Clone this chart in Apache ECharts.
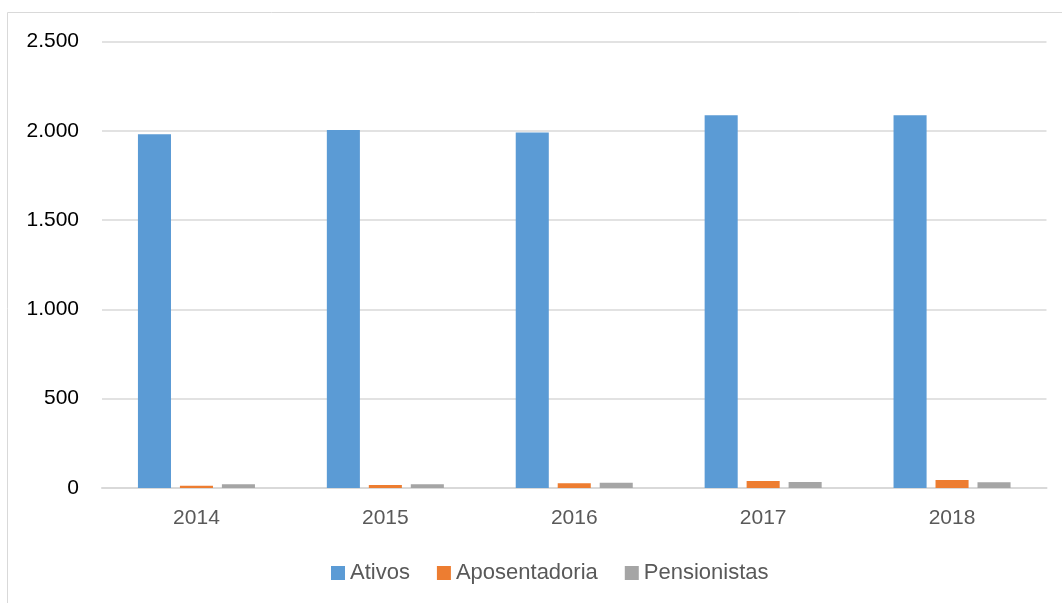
<!DOCTYPE html>
<html>
<head>
<meta charset="utf-8">
<script src="https://cdn.jsdelivr.net/npm/echarts@6/dist/echarts.min.js"></script>
<style>
  html, body { margin: 0; padding: 0; background: #fff; }
  #chart { width: 1062px; height: 603px; }
</style>
</head>
<body>
<div id="chart"></div>
<script>
const years = ['2014', '2015', '2016', '2017', '2018'];
const ativos = [1980, 2005, 1990, 2087, 2087];
const aposentadoria = [13, 17, 26, 39, 45];
const pensionistas = [21, 21, 30, 34, 32];
const yTicks = { min: 0, max: 2500, interval: 500 };

const labelColor = '#595959';
const gridLineColor = '#D9D9D9';
const font = 'Liberation Sans';

const chart = echarts.init(document.getElementById('chart'));

const barSeries = (name, data, color) => ({
  name,
  type: 'bar',
  data,
  barWidth: '17.5%',
  barGap: '27%',
  itemStyle: { color },
  emphasis: { disabled: true }
});

chart.setOption({
  animation: false,
  textStyle: { fontFamily: font },
  graphic: [{
    type: 'rect',
    shape: { x: 7.5, y: 12.5, width: 1070, height: 600 },
    style: { fill: 'none', stroke: gridLineColor, lineWidth: 1 },
    silent: true
  }],
  grid: { left: 102, right: 15.5, top: 41.5, bottom: 115 },
  legend: {
    bottom: 14,
    left: 326,
    itemWidth: 14,
    itemHeight: 14,
    itemGap: 27,
    icon: 'rect',
    textStyle: { color: labelColor, fontSize: 22, fontFamily: font },
    data: ['Ativos', 'Aposentadoria', 'Pensionistas']
  },
  xAxis: {
    type: 'category',
    data: years,
    axisLine: { lineStyle: { color: gridLineColor, width: 2 } },
    axisTick: { show: false },
    axisLabel: { color: labelColor, fontSize: 21, margin: 20 }
  },
  yAxis: {
    type: 'value',
    min: yTicks.min,
    max: yTicks.max,
    interval: yTicks.interval,
    axisLine: { show: false },
    axisTick: { show: false },
    splitLine: { lineStyle: { color: gridLineColor, width: 1.5 } },
    axisLabel: {
      color: '#000',
      fontSize: 21,
      margin: 23,
      formatter: (v) => v.toLocaleString('de-DE')
    }
  },
  series: [
    barSeries('Ativos', ativos, '#5B9BD5'),
    barSeries('Aposentadoria', aposentadoria, '#ED7D31'),
    barSeries('Pensionistas', pensionistas, '#A5A5A5')
  ]
});
</script>
</body>
</html>
